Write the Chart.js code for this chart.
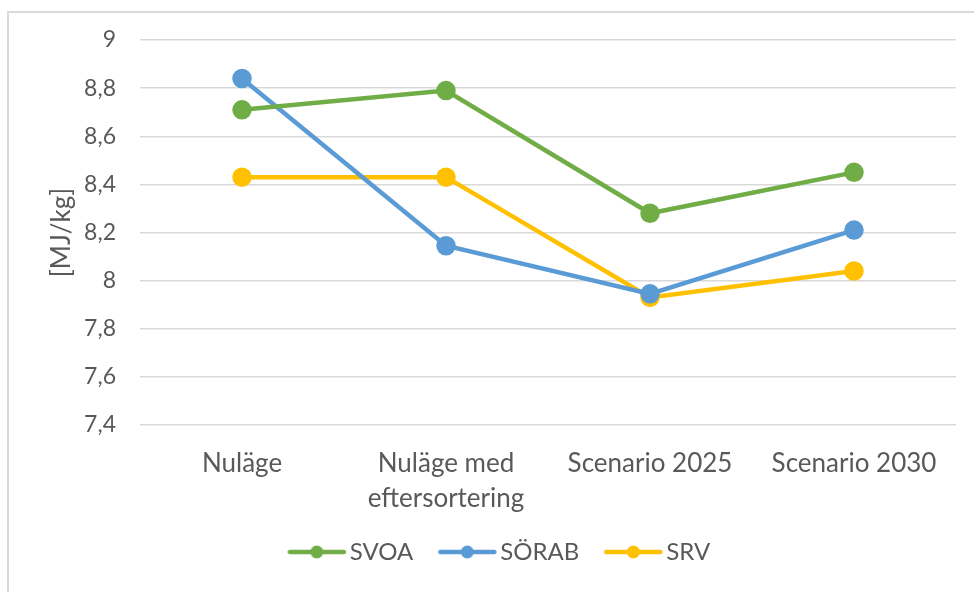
<!DOCTYPE html>
<html>
<head>
<meta charset="utf-8">
<script src="https://cdn.jsdelivr.net/npm/chart.js@4/dist/chart.umd.min.js"></script>
<style>
  html, body { margin: 0; padding: 0; background: #ffffff; }
  #wrap { position: relative; width: 974px; height: 592px; overflow: hidden; }
  #frame { position: absolute; left: 7px; top: 11px; width: 1000px; height: 620px; border: 2px solid #d9d9d9; box-sizing: border-box; }
  canvas { position: absolute; left: 0; top: 0; }
</style>
</head>
<body>
<div id="wrap">
  <div id="frame"></div>
  <canvas id="c" width="974" height="592"></canvas>
</div>
<script>
const categories = ['Nuläge', ['Nuläge med', 'eftersortering'], 'Scenario 2025', 'Scenario 2030'];
const seriesNames = ['SVOA', 'SÖRAB', 'SRV'];
const svoa = [8.71, 8.79, 8.28, 8.45];
const sorab = [8.84, 8.145, 7.945, 8.21];
const srv = [8.43, 8.43, 7.93, 8.04];
const colors = ['#70AD47', '#5B9BD5', '#FFC000'];
const yMin = 7.4, yMax = 9, yStep = 0.2;
const yTitle = '[MJ/kg]';

const FONT = 'Lato, "Open Sans", sans-serif';
const TEXT = '#595959';

// legend marker: line with dot, offset inside a wider transparent canvas
function legendImage(color) {
  const cv = document.createElement('canvas');
  cv.width = 80; cv.height = 16;
  const g = cv.getContext('2d');
  const a = 17.5;
  g.strokeStyle = color; g.lineWidth = 4.5; g.lineCap = 'round';
  g.beginPath(); g.moveTo(a + 2, 8); g.lineTo(a + 56, 8); g.stroke();
  g.fillStyle = color; g.beginPath(); g.arc(a + 29, 8, 6.5, 0, Math.PI * 2); g.fill();
  return cv;
}
const legendImgs = colors.map(legendImage);

const seriesValues = [svoa, sorab, srv];
const datasets = seriesNames.map((n, i) => ({
  label: n,
  data: seriesValues[i],
  borderColor: colors[i],
  backgroundColor: colors[i],
  pointBackgroundColor: colors[i],
  pointBorderColor: colors[i],
  borderWidth: 4.5,
  pointRadius: 7.5,
  pointHoverRadius: 7.5,
  tension: 0,
  fill: false
}));

new Chart(document.getElementById('c'), {
  type: 'line',
  data: { labels: categories, datasets },
  options: {
    responsive: false,
    animation: false,
    events: [],
    layout: { padding: { top: 40, right: 18, left: 37, bottom: 18 } },
    plugins: {
      tooltip: { enabled: false },
      legend: {
        position: 'bottom',
        labels: {
          usePointStyle: true,
          pointStyleWidth: 55,
          padding: 20,
          color: TEXT,
          font: { family: FONT, size: 24 },
          generateLabels: (chart) => chart.data.datasets.map((d, i) => ({
            text: d.label,
            pointStyle: legendImgs[i],
            fillStyle: d.borderColor,
            strokeStyle: d.borderColor,
            lineWidth: 0,
            fontColor: TEXT,
            datasetIndex: i,
            hidden: false
          }))
        }
      }
    },
    scales: {
      x: {
        offset: true,
        grid: { display: false, drawTicks: false },
        border: { display: false },
        ticks: { color: TEXT, font: { family: FONT, size: 26, lineHeight: 1.36 }, padding: 21, maxRotation: 0, autoSkip: false },
        afterFit: (s) => { s.height = 95; }
      },
      y: {
        min: yMin, max: yMax,
        grid: { color: '#d9d9d9', lineWidth: 1.5, drawTicks: false },
        border: { display: false },
        ticks: {
          stepSize: yStep,
          color: TEXT,
          font: { family: FONT, size: 23 },
          padding: 24,
          callback: (v) => String(Math.round(v * 10) / 10).replace('.', ',')
        },
        title: { display: true, text: yTitle, color: TEXT, font: { family: FONT, size: 26, lineHeight: 0.3 }, padding: { top: 21, bottom: 0 } },
        afterFit: (s) => { s.width = 103; s.paddingTop = 0; s.paddingBottom = 0; }
      }
    }
  }
});
</script>
</body>
</html>
